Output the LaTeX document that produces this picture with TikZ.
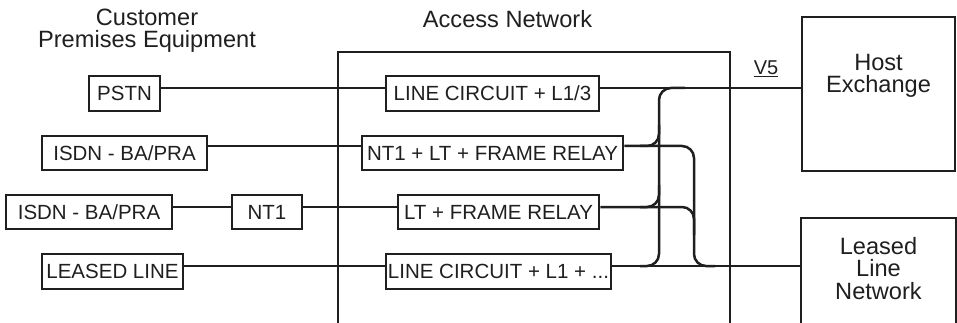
\documentclass[tikz,border=0pt]{standalone}
\usepackage{fontspec}
\setmainfont{Liberation Sans}
\begin{document}
\begin{tikzpicture}[x=1pt,y=-1pt,line width=2.5pt,color={black!88},
  box/.style={draw,line width=2.6pt,inner sep=0pt,text height=14.7pt,text depth=0pt,
    font=\fontsize{20.5}{22}\selectfont},
  big/.style={inner sep=0pt,align=center,font=\fontsize{23.6}{22.5}\selectfont},
  bus/.style={rounded corners=12pt}]
\useasboundingbox (0,0) rectangle (957,323);
% titles
\node[big] (cpe) at (147,30.5) {Customer\\Premises Equipment};
\node[big] (an) at (507.5,19.5) {Access Network};
% access network frame
\draw (338,323) -- (338,52) -- (730,52) -- (730,323);
% customer premises boxes
\node[box,minimum width=71pt,minimum height=35pt] (pstn) at (124.5,93.5) {PSTN};
\node[box,minimum width=165pt,minimum height=34pt] (isdnA) at (124.5,153) {ISDN - BA/PRA};
\node[box,minimum width=166pt,minimum height=34pt] (isdnB) at (89,212) {ISDN - BA/PRA};
\node[box,minimum width=70pt,minimum height=34pt] (ntA) at (267,212) {NT1};
\node[box,minimum width=141pt,minimum height=35pt] (leased) at (112.5,271.5) {LEASED LINE};
% access network boxes
\node[box,minimum width=213pt,minimum height=35pt] (lcA) at (492.5,93.5) {LINE CIRCUIT + L1/3};
\node[box,minimum width=261pt,minimum height=34pt] (ntlt) at (492.5,153) {NT1 + LT + FRAME RELAY};
\node[box,minimum width=201pt,minimum height=34pt] (ltfr) at (498.5,212) {LT + FRAME RELAY};
\node[box,minimum width=225pt,minimum height=35pt] (lcB) at (498.5,271.5) {LINE CIRCUIT + L1 + ...};
% host exchange
\node[draw,line width=2.6pt,minimum width=153pt,minimum height=154pt,inner sep=0pt] (host) at (878.5,94) {};
\node[big] (hostlbl) at (878.5,76) {Host\\Exchange};
% leased line network (open at bottom)
\draw[line width=2.6pt] (801,323) -- (801,218) -- (956,218) -- (956,323);
\coordinate (llw) at (801,266);
\node[big] (lllbl) at (878.5,268.5) {Leased\\Line\\Network};
% V5 label
\node[inner sep=0pt,font=\fontsize{20}{22}\selectfont] (v5) at (766,68.5) {\underline{V5}};
% row connectors
\draw (pstn.east |- 0,88) -- (lcA.west |- 0,88);
\draw (lcA.east |- 0,88) -- (host.west |- 0,88);
\draw (isdnA.east |- 0,146) -- (ntlt.west |- 0,146);
\draw (isdnB.east |- 0,207) -- (ntA.west |- 0,207);
\draw (ntA.east |- 0,207) -- (ltfr.west |- 0,207);
\draw (leased.east |- 0,266) -- (lcB.west |- 0,266);
\draw (lcB.east |- 0,266) -- (llw);
% bus towards host exchange
\draw[bus] (685,88) -| (659,266) -- (640,266);
\draw[bus] (640,146) -| (659,125);
\draw[bus] (640,207) -| (659,185);
% bus towards leased line network
\draw[bus] (ntlt.east |- 0,146) -| (694,266) -- (715,266);
\draw[bus] (ltfr.east |- 0,207) -| (694,235);
\end{tikzpicture}
\end{document}
